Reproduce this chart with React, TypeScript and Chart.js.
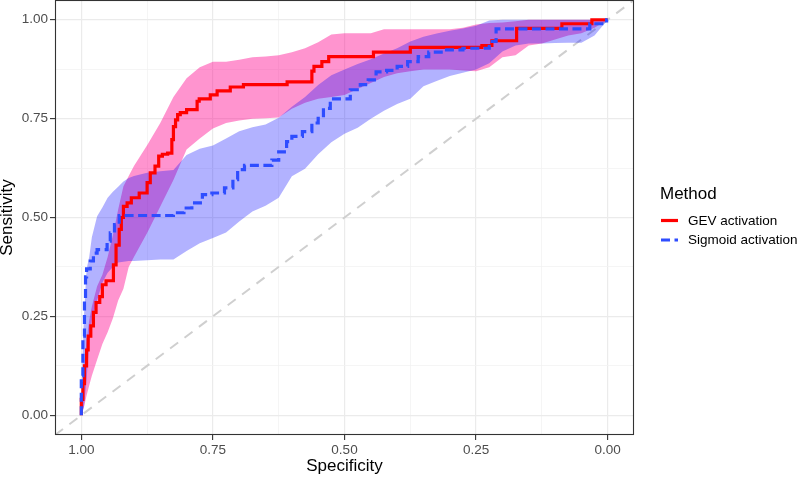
import React, { useEffect, useRef } from 'react';
import { Chart, registerables } from 'chart.js';

Chart.register(...registerables);

// ---------- data ----------
const methods = ['GEV activation', 'Sigmoid activation'];
const legendTitle = 'Method';
const xTitle = 'Specificity';
const yTitle = 'Sensitivity';

const majorTicks = [0, 0.25, 0.5, 0.75, 1];
const tickLabels = ['0.00', '0.25', '0.50', '0.75', '1.00'];
const minorTicks = [0.125, 0.375, 0.625, 0.875];

const axisMin = -0.05;
const axisMax = 1.05;

// ROC coordinates [specificity, sensitivity]
const gevRoc: number[][] = [
  [1, 0], [1, 0.04], [0.997, 0.04], [0.997, 0.08], [0.994, 0.08], [0.994, 0.125], [0.99, 0.125],
  [0.99, 0.165], [0.987, 0.165], [0.987, 0.2], [0.982, 0.2], [0.982, 0.226], [0.977, 0.226],
  [0.977, 0.26], [0.972, 0.26], [0.972, 0.285], [0.965, 0.285], [0.965, 0.3], [0.96, 0.3],
  [0.96, 0.33], [0.953, 0.33], [0.953, 0.34], [0.939, 0.34], [0.939, 0.38], [0.934, 0.38],
  [0.934, 0.43], [0.928, 0.43], [0.928, 0.47], [0.924, 0.47], [0.924, 0.5], [0.92, 0.5],
  [0.92, 0.528], [0.913, 0.528], [0.913, 0.537], [0.905, 0.537], [0.905, 0.55], [0.89, 0.55],
  [0.89, 0.562], [0.875, 0.562], [0.875, 0.588], [0.869, 0.588], [0.869, 0.613], [0.86, 0.613],
  [0.86, 0.63], [0.853, 0.63], [0.853, 0.655], [0.846, 0.655], [0.846, 0.66], [0.836, 0.66],
  [0.836, 0.663], [0.828, 0.663], [0.828, 0.697], [0.825, 0.697], [0.825, 0.73], [0.821, 0.73],
  [0.821, 0.747], [0.817, 0.747], [0.817, 0.76], [0.812, 0.76], [0.812, 0.765], [0.8, 0.765],
  [0.8, 0.773], [0.78, 0.773], [0.78, 0.794], [0.776, 0.794], [0.776, 0.8], [0.755, 0.8],
  [0.755, 0.81], [0.742, 0.81], [0.742, 0.82], [0.717, 0.82], [0.717, 0.83], [0.692, 0.83],
  [0.692, 0.836], [0.609, 0.836], [0.609, 0.843], [0.562, 0.843], [0.562, 0.87], [0.558, 0.87],
  [0.558, 0.882], [0.543, 0.882], [0.543, 0.894], [0.53, 0.894], [0.53, 0.907], [0.445, 0.907],
  [0.445, 0.918], [0.375, 0.918], [0.375, 0.93], [0.239, 0.93], [0.239, 0.935], [0.22, 0.935],
  [0.22, 0.947], [0.173, 0.947], [0.173, 0.978], [0.087, 0.978], [0.087, 0.99], [0.03, 0.99],
  [0.03, 1], [0, 1],
];

const sigmoidRoc: number[][] = [
  [1, 0], [1, 0.1], [0.997, 0.1], [0.997, 0.2], [0.994, 0.2], [0.994, 0.29], [0.992, 0.29],
  [0.992, 0.35], [0.99, 0.35], [0.99, 0.37], [0.983, 0.37], [0.983, 0.39], [0.977, 0.39],
  [0.977, 0.41], [0.97, 0.41], [0.97, 0.419], [0.951, 0.419], [0.951, 0.44], [0.945, 0.44],
  [0.945, 0.461], [0.937, 0.461], [0.937, 0.482], [0.928, 0.482], [0.928, 0.505], [0.825, 0.505],
  [0.825, 0.512], [0.805, 0.512], [0.805, 0.524], [0.79, 0.524], [0.79, 0.537], [0.77, 0.537],
  [0.77, 0.558], [0.752, 0.558], [0.752, 0.562], [0.728, 0.562], [0.728, 0.575], [0.712, 0.575],
  [0.712, 0.596], [0.703, 0.596], [0.703, 0.621], [0.69, 0.621], [0.69, 0.632], [0.638, 0.632],
  [0.638, 0.645], [0.625, 0.645], [0.625, 0.666], [0.61, 0.666], [0.61, 0.692], [0.6, 0.692],
  [0.6, 0.705], [0.58, 0.705], [0.58, 0.717], [0.562, 0.717], [0.562, 0.739], [0.55, 0.739],
  [0.55, 0.751], [0.54, 0.751], [0.54, 0.776], [0.527, 0.776], [0.527, 0.8], [0.489, 0.8],
  [0.489, 0.823], [0.47, 0.823], [0.47, 0.836], [0.455, 0.836], [0.455, 0.848], [0.44, 0.848],
  [0.44, 0.868], [0.42, 0.868], [0.42, 0.872], [0.4, 0.872], [0.4, 0.882], [0.38, 0.882],
  [0.38, 0.894], [0.36, 0.894], [0.36, 0.907], [0.34, 0.907], [0.34, 0.918], [0.31, 0.918],
  [0.31, 0.924], [0.275, 0.924], [0.275, 0.928], [0.225, 0.928], [0.225, 0.945], [0.212, 0.945],
  [0.212, 0.977], [0.034, 0.977], [0.034, 0.99], [0.002, 0.99], [0.002, 1], [0, 1],
];

// Confidence bands of sensitivity at fixed specificities
const bandSpecificity = [
  1, 0.995, 0.99, 0.985, 0.98, 0.97, 0.96, 0.95, 0.94, 0.93, 0.92, 0.91, 0.9,
  0.875, 0.85, 0.825, 0.8, 0.775, 0.75, 0.725, 0.7, 0.675, 0.65, 0.625, 0.6,
  0.575, 0.55, 0.525, 0.5, 0.475, 0.45, 0.425, 0.4, 0.375, 0.35, 0.325, 0.3,
  0.275, 0.25, 0.225, 0.2, 0.175, 0.15, 0.125, 0.1, 0.075, 0.05, 0.025, 0,
];
const gevUpper = [
  0.03, 0.12, 0.19, 0.24, 0.275, 0.326, 0.355, 0.4, 0.455, 0.52, 0.579, 0.605, 0.63,
  0.683, 0.739, 0.805, 0.852, 0.88, 0.894, 0.894, 0.899, 0.905, 0.907, 0.91, 0.918,
  0.928, 0.943, 0.963, 0.966, 0.966, 0.966, 0.976, 0.976, 0.976, 0.976, 0.976, 0.976,
  0.98, 0.988, 0.992, 0.993, 0.996, 1, 1, 1, 1, 1, 1, 1,
];
const gevLower = [
  0, 0.02, 0.05, 0.075, 0.1, 0.14, 0.18, 0.21, 0.245, 0.29, 0.32, 0.375, 0.4,
  0.461, 0.528, 0.595, 0.672, 0.7, 0.725, 0.739, 0.745, 0.75, 0.751, 0.753, 0.775,
  0.79, 0.8, 0.805, 0.81, 0.825, 0.84, 0.855, 0.865, 0.87, 0.874, 0.874, 0.874,
  0.872, 0.87, 0.88, 0.905, 0.91, 0.935, 0.94, 0.95, 0.96, 0.966, 0.98, 1,
];
const sigmoidUpper = [
  0.05, 0.25, 0.37, 0.4, 0.45, 0.503, 0.525, 0.55, 0.565, 0.578, 0.591, 0.6, 0.605,
  0.613, 0.617, 0.62, 0.658, 0.674, 0.682, 0.7, 0.718, 0.728, 0.735, 0.752, 0.78,
  0.805, 0.835, 0.86, 0.874, 0.888, 0.9, 0.915, 0.928, 0.945, 0.957, 0.965, 0.972,
  0.978, 0.985, 0.998, 1, 1, 1, 1, 1, 1, 1, 1, 1,
];
const sigmoidLower = [
  0, 0.02, 0.09, 0.18, 0.24, 0.29, 0.335, 0.36, 0.375, 0.386, 0.388, 0.39, 0.39,
  0.392, 0.394, 0.394, 0.415, 0.435, 0.448, 0.462, 0.49, 0.515, 0.53, 0.55, 0.604,
  0.623, 0.66, 0.69, 0.712, 0.727, 0.75, 0.77, 0.787, 0.8, 0.832, 0.845, 0.858,
  0.866, 0.874, 0.89, 0.92, 0.935, 0.94, 0.94, 0.941, 0.942, 0.942, 0.96, 1,
];

// ---------- styles ----------
const FONT = '"Liberation Sans", Arial, Helvetica, sans-serif';
const RED = '#ff0000';
const BLUE = '#2e4dff';
const PINK_FILL = 'rgba(255, 0, 140, 0.42)';
const BLUE_FILL = 'rgba(0, 0, 255, 0.3)';
const DASH = [9, 4.5];

const isMajor = (v: number) => majorTicks.some((m) => Math.abs(m - v) < 1e-9);
const labelFor = (v: number) => {
  const i = majorTicks.findIndex((m) => Math.abs(m - v) < 1e-9);
  return i >= 0 ? tickLabels[i] : '';
};
const allTicks = [...majorTicks, ...minorTicks].sort((a, b) => a - b);

const toXY = (pts: number[][]) => pts.map(([x, y]) => ({ x, y }));
const band = (vals: number[]) => bandSpecificity.map((x, i) => ({ x, y: vals[i] }));

const panelBorder = {
  id: 'panelBorder',
  afterDatasetsDraw(chart: any) {
    const { ctx, chartArea: a } = chart;
    ctx.save();
    ctx.strokeStyle = '#333333';
    ctx.lineWidth = 1.1;
    ctx.strokeRect(a.left + 0.5, a.top + 0.5, a.right - a.left - 1, a.bottom - a.top - 1);
    ctx.restore();
  },
};

const ggLegend = {
  id: 'ggLegend',
  afterDraw(chart: any) {
    const { ctx, chartArea: a } = chart;
    const x0 = a.right + 26;
    ctx.save();
    ctx.fillStyle = '#000000';
    ctx.textBaseline = 'middle';
    ctx.textAlign = 'left';
    ctx.font = `17px ${FONT}`;
    ctx.fillText(legendTitle, x0, 194);
    const rows = [
      { label: methods[0], color: RED, dash: [] as number[], y: 220.5 },
      { label: methods[1], color: BLUE, dash: DASH, y: 240 },
    ];
    rows.forEach((r) => {
      ctx.beginPath();
      ctx.strokeStyle = r.color;
      ctx.lineWidth = 3.2;
      ctx.lineCap = 'butt';
      ctx.setLineDash(r.dash);
      ctx.moveTo(x0 + 1, r.y);
      ctx.lineTo(x0 + 18, r.y);
      ctx.stroke();
      ctx.setLineDash([]);
      ctx.font = `13.5px ${FONT}`;
      ctx.fillStyle = '#000000';
      ctx.fillText(r.label, x0 + 28, r.y + 0.5);
    });
    ctx.restore();
  },
};

const gridOpts = {
  color: (c: any) => (c.tick && isMajor(c.tick.value) ? '#ebebeb' : '#f2f2f2'),
  lineWidth: (c: any) => (c.tick && isMajor(c.tick.value) ? 1.2 : 0.8),
  tickColor: (c: any) => (c.tick && isMajor(c.tick.value) ? '#333333' : 'rgba(0,0,0,0)'),
  tickLength: 5,
  tickWidth: 1.1,
  drawTicks: true,
  drawOnChartArea: true,
};

export default function App() {
  const ref = useRef<HTMLCanvasElement | null>(null);

  useEffect(() => {
    document.body.style.margin = '0';
    const canvas = ref.current;
    if (!canvas) return;
    const chart = new Chart(canvas, {
      type: 'line',
      data: {
        datasets: [
          { // 0 diagonal
            data: [{ x: axisMax, y: axisMin }, { x: axisMin, y: axisMax }],
            borderColor: '#cfcfcf', borderWidth: 2, borderDash: [10, 8], fill: false, order: 10,
          },
          { // 1 gev lower
            data: band(gevLower), borderColor: 'rgba(0,0,0,0)', borderWidth: 1, fill: false, order: 9,
          },
          { // 2 gev upper
            data: band(gevUpper), borderColor: 'rgba(0,0,0,0)', borderWidth: 1,
            fill: { target: 1 }, backgroundColor: PINK_FILL, order: 8,
          },
          { // 3 sigmoid lower
            data: band(sigmoidLower), borderColor: 'rgba(0,0,0,0)', borderWidth: 1, fill: false, order: 7,
          },
          { // 4 sigmoid upper
            data: band(sigmoidUpper), borderColor: 'rgba(0,0,0,0)', borderWidth: 1,
            fill: { target: 3 }, backgroundColor: BLUE_FILL, order: 6,
          },
          { // 5 GEV curve
            label: methods[0], data: toXY(gevRoc), borderColor: RED, borderWidth: 3.2,
            fill: false, order: 2, borderJoinStyle: 'miter', borderCapStyle: 'butt',
          },
          { // 6 Sigmoid curve
            label: methods[1], data: toXY(sigmoidRoc), borderColor: BLUE, borderWidth: 3.2,
            borderDash: DASH, fill: false, order: 1, borderJoinStyle: 'miter', borderCapStyle: 'butt',
          },
        ] as any,
      },
      options: {
        animation: false,
        responsive: false,
        devicePixelRatio: 1,
        parsing: false as any,
        normalized: true,
        events: [],
        layout: { padding: { left: 0, right: 174, top: 0, bottom: 0 } },
        elements: { point: { radius: 0 }, line: { tension: 0 } },
        plugins: {
          legend: { display: false },
          tooltip: { enabled: false },
          filler: { propagate: false },
        },
        scales: {
          x: {
            type: 'linear',
            min: axisMin,
            max: axisMax,
            reverse: true,
            afterBuildTicks: (s: any) => { s.ticks = allTicks.map((v) => ({ value: v })); },
            afterFit: (s: any) => { s.height = 42; s.paddingLeft = 0; s.paddingRight = 0; },
            ticks: {
              autoSkip: false, maxRotation: 0, padding: 2, color: '#4d4d4d',
              font: { family: FONT, size: 13.5 },
              callback: (v: any) => labelFor(Number(v)),
            },
            grid: gridOpts as any,
            border: { display: false },
            title: {
              display: true, text: xTitle, color: '#000000',
              font: { family: FONT, size: 17, lineHeight: 1.2 },
              padding: { top: 0, bottom: 0.8 },
            },
          },
          y: {
            type: 'linear',
            min: axisMin,
            max: axisMax,
            afterBuildTicks: (s: any) => { s.ticks = allTicks.map((v) => ({ value: v })); },
            afterFit: (s: any) => { s.width = 55; s.paddingTop = 0; s.paddingBottom = 0; },
            ticks: {
              autoSkip: false, padding: 2, color: '#4d4d4d',
              font: { family: FONT, size: 13.5 },
              callback: (v: any) => labelFor(Number(v)),
            },
            grid: gridOpts as any,
            border: { display: false },
            title: {
              display: true, text: yTitle, color: '#000000',
              font: { family: FONT, size: 17, lineHeight: 1.2 },
              padding: { top: -3, bottom: 0 },
            },
          },
        },
      } as any,
      plugins: [panelBorder, ggLegend],
    });
    return () => chart.destroy();
  }, []);

  return (
    <div style={{ position: 'absolute', left: 0, top: 0, width: 808, height: 477, background: '#ffffff' }}>
      <canvas ref={ref} width={808} height={477} style={{ display: 'block', width: 808, height: 477 }} />
    </div>
  );
}
